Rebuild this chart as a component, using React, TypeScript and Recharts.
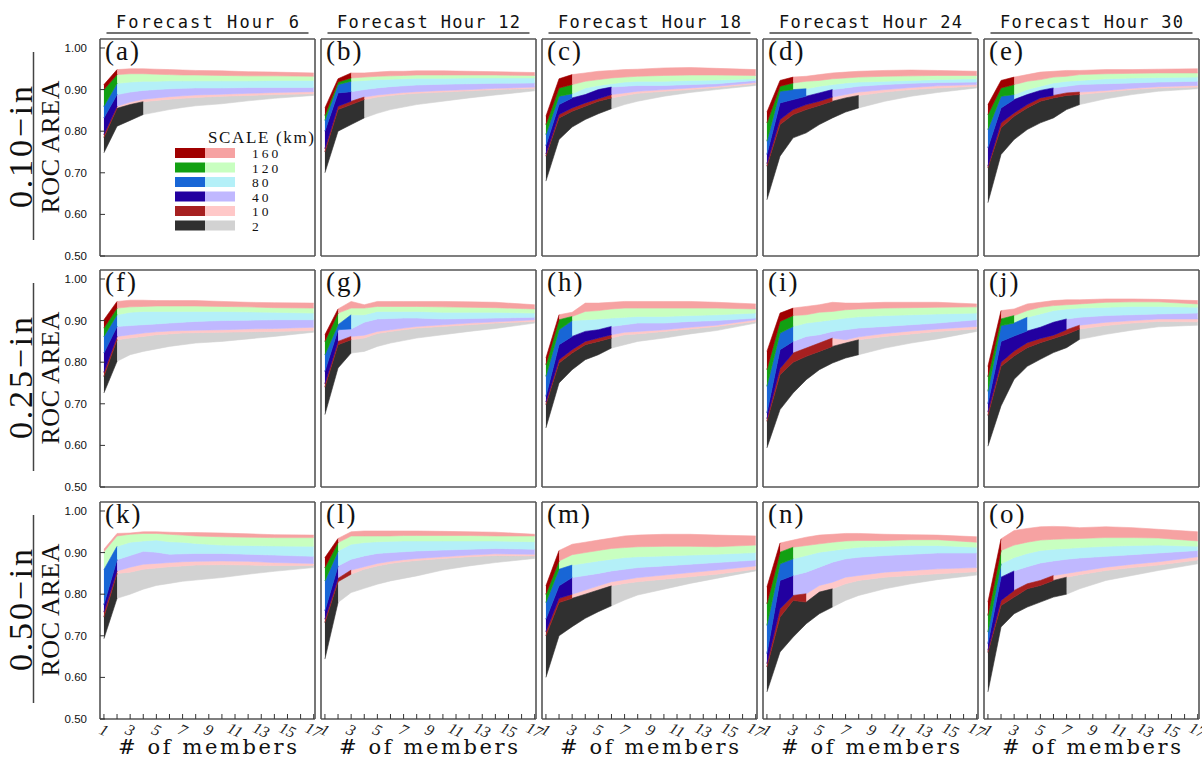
import React from "react";
import { Area, AreaChart, XAxis, YAxis } from "recharts";

// ensemble sizes the ROC area was computed at
const MEMBERS = [1, 2, 3, 4, 5, 6, 7, 8, 10, 12, 14, 17];
const X_TICKS = [1, 2, 3, 4, 5, 6, 7, 8, 9, 10, 11, 12, 13, 14, 15, 16, 17];
const Y_TICKS = [0.5, 0.6, 0.7, 0.8, 0.9, 1.0];
const SCALES = ["2", "10", "40", "80", "120", "160"];
const HOURS = [6, 12, 18, 24, 30];
const THRESHOLDS = ["0.10", "0.25", "0.50"];
const LETTERS = ["a", "b", "c", "d", "e", "f", "g", "h", "i", "j", "k", "l", "m", "n", "o"];

// scale order: 2, 10, 40, 80, 120, 160 km
const DARK = ["#303030", "#a62020", "#2200a0", "#1866d6", "#12a012", "#a00000"];
const LIGHT = ["#d2d2d2", "#ffc8c8", "#c0b8ff", "#b4f0f8", "#c8ffc0", "#f6a2a2"];

/* band edges per panel: gray bottom, then top of 2, 10, 40, 80, 120, 160 km */
const PANEL_A = [
  [0.748, 0.812, 0.826, 0.840, 0.846, 0.852, 0.857, 0.861, 0.866, 0.873, 0.879, 0.886],
  [0.785, 0.855, 0.864, 0.871, 0.874, 0.877, 0.879, 0.881, 0.884, 0.886, 0.888, 0.890],
  [0.792, 0.860, 0.870, 0.877, 0.880, 0.883, 0.885, 0.887, 0.889, 0.891, 0.893, 0.895],
  [0.832, 0.888, 0.894, 0.898, 0.900, 0.902, 0.903, 0.904, 0.904, 0.905, 0.905, 0.905],
  [0.860, 0.915, 0.918, 0.920, 0.920, 0.921, 0.921, 0.921, 0.921, 0.921, 0.922, 0.922],
  [0.900, 0.936, 0.938, 0.938, 0.937, 0.936, 0.935, 0.935, 0.934, 0.933, 0.933, 0.932],
  [0.912, 0.948, 0.950, 0.950, 0.949, 0.948, 0.947, 0.946, 0.945, 0.943, 0.942, 0.940],
];
const PANEL_B = [
  [0.700, 0.800, 0.816, 0.832, 0.843, 0.852, 0.858, 0.864, 0.872, 0.880, 0.887, 0.897],
  [0.750, 0.852, 0.864, 0.876, 0.882, 0.886, 0.889, 0.891, 0.894, 0.897, 0.900, 0.903],
  [0.758, 0.860, 0.872, 0.882, 0.887, 0.890, 0.893, 0.895, 0.898, 0.900, 0.903, 0.906],
  [0.800, 0.892, 0.895, 0.900, 0.904, 0.907, 0.909, 0.911, 0.913, 0.914, 0.915, 0.916],
  [0.826, 0.912, 0.920, 0.922, 0.924, 0.925, 0.926, 0.927, 0.927, 0.928, 0.928, 0.928],
  [0.838, 0.918, 0.928, 0.930, 0.932, 0.933, 0.934, 0.935, 0.935, 0.935, 0.935, 0.934],
  [0.856, 0.926, 0.940, 0.940, 0.942, 0.944, 0.944, 0.945, 0.945, 0.944, 0.943, 0.941],
];
const PANEL_C = [
  [0.680, 0.780, 0.810, 0.828, 0.842, 0.854, 0.864, 0.872, 0.884, 0.893, 0.900, 0.910],
  [0.740, 0.832, 0.848, 0.860, 0.872, 0.880, 0.886, 0.891, 0.896, 0.900, 0.905, 0.914],
  [0.745, 0.840, 0.856, 0.868, 0.878, 0.888, 0.892, 0.896, 0.900, 0.904, 0.908, 0.917],
  [0.765, 0.864, 0.880, 0.888, 0.900, 0.906, 0.908, 0.910, 0.910, 0.912, 0.914, 0.922],
  [0.792, 0.884, 0.890, 0.904, 0.910, 0.914, 0.918, 0.920, 0.920, 0.922, 0.923, 0.926],
  [0.816, 0.904, 0.912, 0.920, 0.924, 0.928, 0.930, 0.932, 0.934, 0.935, 0.935, 0.934],
  [0.836, 0.926, 0.936, 0.940, 0.944, 0.946, 0.948, 0.949, 0.952, 0.953, 0.951, 0.948],
];
const PANEL_D = [
  [0.635, 0.740, 0.784, 0.796, 0.816, 0.832, 0.846, 0.856, 0.872, 0.884, 0.893, 0.904],
  [0.716, 0.816, 0.840, 0.852, 0.862, 0.872, 0.880, 0.886, 0.894, 0.900, 0.904, 0.908],
  [0.722, 0.828, 0.852, 0.864, 0.872, 0.882, 0.888, 0.894, 0.900, 0.905, 0.909, 0.912],
  [0.744, 0.868, 0.876, 0.884, 0.892, 0.900, 0.904, 0.908, 0.912, 0.915, 0.917, 0.918],
  [0.776, 0.896, 0.900, 0.902, 0.908, 0.912, 0.916, 0.918, 0.920, 0.922, 0.924, 0.926],
  [0.820, 0.908, 0.916, 0.920, 0.922, 0.926, 0.928, 0.930, 0.932, 0.933, 0.934, 0.934],
  [0.846, 0.922, 0.930, 0.932, 0.936, 0.940, 0.942, 0.944, 0.946, 0.947, 0.946, 0.944],
];
const PANEL_E = [
  [0.628, 0.744, 0.780, 0.804, 0.820, 0.832, 0.852, 0.864, 0.878, 0.888, 0.896, 0.902],
  [0.712, 0.808, 0.836, 0.856, 0.872, 0.880, 0.886, 0.888, 0.894, 0.900, 0.904, 0.906],
  [0.716, 0.820, 0.844, 0.864, 0.880, 0.886, 0.892, 0.894, 0.898, 0.903, 0.907, 0.910],
  [0.760, 0.856, 0.876, 0.888, 0.898, 0.904, 0.908, 0.912, 0.914, 0.916, 0.918, 0.920],
  [0.804, 0.884, 0.888, 0.900, 0.908, 0.916, 0.920, 0.922, 0.926, 0.928, 0.929, 0.930],
  [0.840, 0.904, 0.912, 0.920, 0.924, 0.930, 0.932, 0.936, 0.938, 0.939, 0.940, 0.940],
  [0.864, 0.922, 0.930, 0.936, 0.942, 0.944, 0.946, 0.946, 0.948, 0.948, 0.949, 0.950],
];
const PANEL_F = [
  [0.726, 0.802, 0.818, 0.826, 0.832, 0.838, 0.842, 0.846, 0.850, 0.856, 0.862, 0.872],
  [0.766, 0.854, 0.858, 0.862, 0.866, 0.868, 0.870, 0.871, 0.872, 0.873, 0.874, 0.876],
  [0.776, 0.862, 0.866, 0.870, 0.873, 0.875, 0.876, 0.877, 0.878, 0.880, 0.881, 0.884],
  [0.822, 0.886, 0.888, 0.890, 0.892, 0.894, 0.896, 0.898, 0.900, 0.901, 0.902, 0.902],
  [0.862, 0.914, 0.920, 0.922, 0.922, 0.922, 0.922, 0.922, 0.922, 0.921, 0.920, 0.918],
  [0.882, 0.930, 0.933, 0.934, 0.935, 0.935, 0.935, 0.935, 0.934, 0.933, 0.931, 0.930],
  [0.902, 0.946, 0.949, 0.949, 0.948, 0.948, 0.948, 0.948, 0.946, 0.944, 0.943, 0.942],
];
const PANEL_G = [
  [0.674, 0.786, 0.822, 0.826, 0.838, 0.846, 0.852, 0.858, 0.866, 0.874, 0.881, 0.894],
  [0.740, 0.842, 0.854, 0.858, 0.869, 0.874, 0.878, 0.882, 0.886, 0.890, 0.894, 0.898],
  [0.748, 0.850, 0.862, 0.865, 0.874, 0.878, 0.882, 0.886, 0.890, 0.894, 0.897, 0.902],
  [0.778, 0.878, 0.880, 0.896, 0.904, 0.905, 0.906, 0.906, 0.904, 0.905, 0.906, 0.908],
  [0.818, 0.890, 0.914, 0.914, 0.922, 0.922, 0.922, 0.922, 0.920, 0.920, 0.920, 0.918],
  [0.850, 0.918, 0.930, 0.930, 0.934, 0.934, 0.934, 0.934, 0.933, 0.932, 0.931, 0.928],
  [0.866, 0.928, 0.946, 0.938, 0.946, 0.946, 0.946, 0.946, 0.946, 0.945, 0.944, 0.938],
];
const PANEL_H = [
  [0.642, 0.750, 0.782, 0.806, 0.818, 0.834, 0.842, 0.850, 0.858, 0.868, 0.876, 0.894],
  [0.698, 0.798, 0.822, 0.842, 0.850, 0.858, 0.866, 0.868, 0.874, 0.880, 0.886, 0.898],
  [0.704, 0.806, 0.830, 0.850, 0.858, 0.866, 0.872, 0.874, 0.878, 0.884, 0.889, 0.902],
  [0.718, 0.842, 0.862, 0.874, 0.878, 0.886, 0.890, 0.894, 0.894, 0.898, 0.900, 0.906],
  [0.766, 0.878, 0.900, 0.902, 0.904, 0.906, 0.908, 0.910, 0.910, 0.912, 0.914, 0.918],
  [0.794, 0.902, 0.910, 0.922, 0.924, 0.928, 0.930, 0.930, 0.930, 0.930, 0.930, 0.928],
  [0.810, 0.914, 0.920, 0.942, 0.942, 0.944, 0.946, 0.946, 0.946, 0.946, 0.944, 0.940],
];
const PANEL_I = [
  [0.594, 0.686, 0.726, 0.758, 0.782, 0.798, 0.810, 0.818, 0.834, 0.846, 0.856, 0.874],
  [0.658, 0.770, 0.800, 0.814, 0.826, 0.838, 0.846, 0.854, 0.862, 0.868, 0.874, 0.880],
  [0.664, 0.785, 0.822, 0.834, 0.846, 0.858, 0.854, 0.861, 0.869, 0.875, 0.880, 0.886],
  [0.678, 0.830, 0.850, 0.862, 0.866, 0.874, 0.878, 0.882, 0.886, 0.890, 0.894, 0.902],
  [0.742, 0.870, 0.886, 0.894, 0.898, 0.902, 0.906, 0.909, 0.912, 0.914, 0.916, 0.918],
  [0.782, 0.898, 0.912, 0.914, 0.920, 0.922, 0.926, 0.928, 0.930, 0.931, 0.932, 0.933],
  [0.826, 0.918, 0.930, 0.934, 0.938, 0.944, 0.942, 0.942, 0.944, 0.944, 0.944, 0.940],
];
const PANEL_J = [
  [0.598, 0.695, 0.759, 0.790, 0.807, 0.823, 0.835, 0.855, 0.867, 0.877, 0.885, 0.889],
  [0.672, 0.790, 0.815, 0.835, 0.847, 0.857, 0.867, 0.880, 0.888, 0.894, 0.898, 0.897],
  [0.680, 0.800, 0.827, 0.847, 0.857, 0.865, 0.878, 0.889, 0.896, 0.900, 0.904, 0.904],
  [0.700, 0.850, 0.863, 0.875, 0.884, 0.896, 0.904, 0.908, 0.912, 0.914, 0.916, 0.918],
  [0.730, 0.888, 0.894, 0.908, 0.916, 0.924, 0.928, 0.930, 0.932, 0.934, 0.934, 0.932],
  [0.765, 0.904, 0.912, 0.924, 0.932, 0.936, 0.938, 0.940, 0.944, 0.945, 0.945, 0.940],
  [0.790, 0.924, 0.928, 0.940, 0.944, 0.948, 0.950, 0.950, 0.952, 0.952, 0.951, 0.948],
];
const PANEL_K = [
  [0.693, 0.790, 0.800, 0.812, 0.821, 0.826, 0.831, 0.834, 0.840, 0.848, 0.855, 0.864],
  [0.745, 0.850, 0.853, 0.860, 0.863, 0.866, 0.868, 0.870, 0.871, 0.870, 0.869, 0.869],
  [0.757, 0.856, 0.865, 0.872, 0.874, 0.876, 0.878, 0.879, 0.880, 0.879, 0.876, 0.874],
  [0.775, 0.883, 0.893, 0.903, 0.901, 0.896, 0.897, 0.898, 0.898, 0.896, 0.894, 0.891],
  [0.859, 0.915, 0.925, 0.928, 0.930, 0.926, 0.925, 0.922, 0.918, 0.917, 0.916, 0.915],
  [0.902, 0.940, 0.944, 0.946, 0.946, 0.944, 0.942, 0.940, 0.938, 0.937, 0.936, 0.936],
  [0.908, 0.946, 0.947, 0.950, 0.950, 0.949, 0.948, 0.948, 0.947, 0.945, 0.943, 0.942],
];
const PANEL_L = [
  [0.644, 0.780, 0.804, 0.814, 0.824, 0.832, 0.838, 0.844, 0.858, 0.868, 0.876, 0.886],
  [0.732, 0.830, 0.848, 0.860, 0.868, 0.874, 0.878, 0.881, 0.886, 0.890, 0.893, 0.892],
  [0.740, 0.838, 0.858, 0.866, 0.874, 0.879, 0.883, 0.886, 0.890, 0.894, 0.897, 0.896],
  [0.760, 0.868, 0.884, 0.892, 0.898, 0.900, 0.902, 0.904, 0.906, 0.908, 0.910, 0.908],
  [0.832, 0.904, 0.920, 0.924, 0.926, 0.927, 0.928, 0.928, 0.928, 0.928, 0.928, 0.926],
  [0.864, 0.924, 0.940, 0.940, 0.940, 0.940, 0.941, 0.941, 0.941, 0.941, 0.940, 0.940],
  [0.888, 0.934, 0.950, 0.952, 0.952, 0.952, 0.952, 0.952, 0.951, 0.950, 0.949, 0.944],
];
const PANEL_M = [
  [0.600, 0.700, 0.722, 0.742, 0.758, 0.772, 0.786, 0.798, 0.812, 0.826, 0.838, 0.856],
  [0.700, 0.780, 0.790, 0.800, 0.810, 0.820, 0.826, 0.830, 0.836, 0.842, 0.848, 0.860],
  [0.710, 0.790, 0.800, 0.810, 0.820, 0.830, 0.835, 0.840, 0.846, 0.852, 0.858, 0.868],
  [0.740, 0.820, 0.840, 0.845, 0.850, 0.856, 0.860, 0.864, 0.868, 0.872, 0.876, 0.882],
  [0.780, 0.860, 0.870, 0.875, 0.880, 0.884, 0.888, 0.890, 0.892, 0.894, 0.896, 0.900],
  [0.800, 0.880, 0.895, 0.900, 0.905, 0.910, 0.912, 0.914, 0.915, 0.915, 0.914, 0.918],
  [0.820, 0.905, 0.920, 0.925, 0.930, 0.935, 0.940, 0.942, 0.944, 0.944, 0.942, 0.940],
];
const PANEL_N = [
  [0.565, 0.661, 0.697, 0.729, 0.753, 0.769, 0.785, 0.797, 0.813, 0.825, 0.835, 0.846],
  [0.625, 0.745, 0.785, 0.781, 0.805, 0.813, 0.825, 0.833, 0.841, 0.845, 0.849, 0.854],
  [0.633, 0.765, 0.797, 0.801, 0.821, 0.829, 0.841, 0.845, 0.853, 0.857, 0.861, 0.864],
  [0.657, 0.833, 0.845, 0.853, 0.865, 0.877, 0.885, 0.889, 0.893, 0.896, 0.899, 0.899],
  [0.725, 0.873, 0.885, 0.893, 0.901, 0.905, 0.909, 0.913, 0.915, 0.917, 0.917, 0.913],
  [0.777, 0.901, 0.913, 0.917, 0.921, 0.925, 0.928, 0.929, 0.929, 0.931, 0.931, 0.925],
  [0.817, 0.923, 0.930, 0.937, 0.942, 0.944, 0.946, 0.946, 0.944, 0.943, 0.942, 0.938],
];
const PANEL_O = [
  [0.565, 0.721, 0.753, 0.769, 0.781, 0.793, 0.800, 0.813, 0.833, 0.845, 0.857, 0.873],
  [0.660, 0.773, 0.793, 0.813, 0.821, 0.833, 0.841, 0.847, 0.857, 0.864, 0.870, 0.882],
  [0.665, 0.785, 0.809, 0.825, 0.833, 0.845, 0.850, 0.855, 0.865, 0.872, 0.878, 0.890],
  [0.681, 0.841, 0.856, 0.866, 0.875, 0.880, 0.884, 0.887, 0.891, 0.895, 0.899, 0.905],
  [0.709, 0.873, 0.888, 0.898, 0.905, 0.908, 0.910, 0.912, 0.915, 0.917, 0.918, 0.915],
  [0.749, 0.905, 0.918, 0.925, 0.930, 0.932, 0.933, 0.934, 0.936, 0.936, 0.935, 0.928],
  [0.781, 0.933, 0.953, 0.958, 0.962, 0.963, 0.962, 0.960, 0.962, 0.960, 0.956, 0.950],
];

/* last member count drawn in the dark (significant) shade, per scale 2..160 */
const CUT_A = [4, 2, 2, 2, 2, 2];
const CUT_B = [4, 4, 3, 3, 3, 3];
const CUT_C = [6, 6, 6, 3, 3, 3];
const CUT_D = [8, 6, 6, 4, 3, 3];
const CUT_E = [8, 8, 6, 3, 3, 3];
const CUT_F = [2, 2, 2, 2, 2, 2];
const CUT_G = [3, 3, 2, 3, 2, 2];
const CUT_H = [6, 6, 6, 3, 3, 2];
const CUT_I = [8, 6, 3, 3, 3, 3];
const CUT_J = [8, 8, 7, 4, 3, 2];
const CUT_K = [2, 2, 2, 2, 1, 1];
const CUT_L = [2, 3, 2, 2, 2, 2];
const CUT_M = [6, 3, 3, 3, 2, 2];
const CUT_N = [6, 4, 3, 3, 3, 2];
const CUT_O = [7, 6, 3, 2, 2, 2];

const BOUNDS = [PANEL_A, PANEL_B, PANEL_C, PANEL_D, PANEL_E, PANEL_F, PANEL_G, PANEL_H, PANEL_I, PANEL_J, PANEL_K, PANEL_L, PANEL_M, PANEL_N, PANEL_O];
const CUTS = [CUT_A, CUT_B, CUT_C, CUT_D, CUT_E, CUT_F, CUT_G, CUT_H, CUT_I, CUT_J, CUT_K, CUT_L, CUT_M, CUT_N, CUT_O];

const COL_LEFT = [100, 321, 542, 763, 984];
const ROW_TOP = [39, 270, 502];
const PW = 215;
const PH = 217;
const EXTRA_R = 14; // room for the rotated "17" label
const Y_DOMAIN: [number, number] = [0.5, 1.0216];
const X_DOMAIN: [number, number] = [0.7, 17.1];

const FRAME = { stroke: "#555", strokeWidth: 1.6 };
const TICKLINE = { stroke: "#333", strokeWidth: 1 };
const SERIF = "'Liberation Serif', 'Times New Roman', serif";

function buildRows(bounds: number[][], cut: number[]) {
  return MEMBERS.map((m, i) => {
    const row: Record<string, unknown> = { m };
    for (let s = 0; s < 6; s++) {
      const band = [bounds[s][i], bounds[s + 1][i]];
      row[`d${s}`] = m <= cut[s] ? band : null;
      row[`l${s}`] = m >= cut[s] ? band : null;
    }
    return row;
  });
}

function MemberTick(props: any) {
  const { x, y, payload } = props;
  if (payload.value % 2 === 0) return null;
  return (
    <text
      x={x}
      y={y}
      transform={`rotate(25 ${x} ${y})`}
      textAnchor="middle"
      dominantBaseline="central"
      fontFamily={SERIF}
      fontStyle="italic"
      fontSize={16}
      fill="#222"
    >
      {payload.value}
    </text>
  );
}

function Panel({ idx }: { idx: number }) {
  const col = idx % 5;
  const row = Math.floor(idx / 5);
  const rows = buildRows(BOUNDS[idx], CUTS[idx]);
  return (
    <div style={{ position: "absolute", left: COL_LEFT[col] - 40, top: ROW_TOP[row] - 1 }}>
      <AreaChart width={40 + PW + 1 + EXTRA_R} height={1 + PH + 45} data={rows} margin={{ top: 0, right: EXTRA_R, bottom: 0, left: 0 }}>
        <XAxis
          xAxisId="b"
          type="number"
          dataKey="m"
          domain={X_DOMAIN}
          allowDataOverflow
          ticks={X_TICKS}
          interval={0}
          height={45}
          tickSize={-5}
          tickMargin={16}
          axisLine={FRAME}
          tickLine={TICKLINE}
          tick={row === 2 ? (p: any) => <MemberTick {...p} /> : false}
        />
        <XAxis xAxisId="t" orientation="top" type="number" domain={X_DOMAIN} allowDataOverflow ticks={X_TICKS} height={1} tick={false} tickLine={false} axisLine={FRAME} />
        <YAxis
          yAxisId="l"
          type="number"
          domain={Y_DOMAIN}
          allowDataOverflow
          ticks={Y_TICKS}
          interval={0}
          width={40}
          tickSize={-5}
          tickMargin={18}
          axisLine={FRAME}
          tickLine={TICKLINE}
          tickFormatter={(v) => Number(v).toFixed(2)}
          tick={col === 0 ? { fontSize: 11.5, fill: "#111", fontFamily: "'Liberation Sans', Arial, sans-serif" } : false}
        />
        <YAxis yAxisId="r" orientation="right" type="number" domain={Y_DOMAIN} allowDataOverflow ticks={Y_TICKS} interval={0} width={1} tickSize={-5} axisLine={FRAME} tickLine={TICKLINE} tick={false} />
        {SCALES.map((s, i) => (
          <Area
            key={`l${s}`}
            xAxisId="b"
            yAxisId="l"
            type="linear"
            dataKey={`l${i}`}
            fill={LIGHT[i]}
            fillOpacity={1}
            stroke={LIGHT[i]}
            strokeWidth={0.6}
            dot={false}
            activeDot={false}
            isAnimationActive={false}
          />
        ))}
        {SCALES.map((s, i) => (
          <Area
            key={`d${s}`}
            xAxisId="b"
            yAxisId="l"
            type="linear"
            dataKey={`d${i}`}
            fill={DARK[i]}
            fillOpacity={1}
            stroke={DARK[i]}
            strokeWidth={0.6}
            dot={false}
            activeDot={false}
            isAnimationActive={false}
          />
        ))}
      </AreaChart>
    </div>
  );
}

function Decorations() {
  const legendRows = [...SCALES].reverse();
  const legendColor = [...SCALES.keys()].reverse();
  return (
    <svg width={1202} height={759} style={{ position: "absolute", left: 0, top: 0, pointerEvents: "none" }}>
      {HOURS.map((h, c) => {
        const cx = COL_LEFT[c] + PW / 2;
        return (
          <g key={h}>
            <text x={cx} y={28} textAnchor="middle" fontFamily="'DejaVu Sans Mono', monospace" fontSize={17} textLength={183} lengthAdjust="spacing" fill="#111">
              {`Forecast Hour ${h}`}
            </text>
            <line x1={cx - 101} x2={cx + 101} y1={33} y2={33} stroke="#444" strokeWidth={1.5} />
          </g>
        );
      })}
      {THRESHOLDS.map((t, r) => {
        const cy = ROW_TOP[r] + 108;
        return (
          <g key={t}>
            <text x={32} y={cy} transform={`rotate(-90 32 ${cy})`} textAnchor="middle" fontFamily={SERIF} fontSize={34} textLength={122} lengthAdjust="spacing" fill="#111">
              {`${t}\u2212in`}
            </text>
            <line x1={33.5} x2={33.5} y1={ROW_TOP[r] + 13} y2={ROW_TOP[r] + 201} stroke="#444" strokeWidth={1.5} />
            <text x={59} y={cy} transform={`rotate(-90 59 ${cy})`} textAnchor="middle" fontFamily={SERIF} fontSize={26} textLength={133} lengthAdjust="spacing" fill="#111">
              ROC AREA
            </text>
          </g>
        );
      })}
      {LETTERS.map((l, i) => (
        <text key={l} x={COL_LEFT[i % 5] + 5} y={ROW_TOP[Math.floor(i / 5)] + 21} fontFamily={SERIF} fontSize={27} letterSpacing={2} fill="#111">
          {`(${l})`}
        </text>
      ))}
      {COL_LEFT.map((x, c) => (
        <text key={c} x={x + PW / 2} y={754} textAnchor="middle" fontFamily="'DejaVu Serif', serif" fontSize={21} textLength={179} lengthAdjust="spacing" fill="#111">
          # of members
        </text>
      ))}
      <text x={208} y={143} fontFamily={SERIF} fontSize={17} letterSpacing={2} textLength={108} lengthAdjust="spacing" fill="#111">
        SCALE (km)
      </text>
      {legendRows.map((s, k) => {
        const y = 148 + k * 14.5;
        const ci = legendColor[k];
        return (
          <g key={s}>
            <rect x={175} y={y} width={30} height={10} fill={DARK[ci]} />
            <rect x={205} y={y} width={30} height={10} fill={LIGHT[ci]} />
            <text x={252} y={y + 10} fontFamily={SERIF} fontSize={13.5} letterSpacing={3} fill="#111">
              {s}
            </text>
          </g>
        );
      })}
    </svg>
  );
}

export default function App() {
  return (
    <div style={{ position: "absolute", left: 0, top: 0, width: 1202, height: 759, background: "#fff", overflow: "hidden" }}>
      {BOUNDS.map((_, i) => (
        <Panel key={i} idx={i} />
      ))}
      <Decorations />
    </div>
  );
}
